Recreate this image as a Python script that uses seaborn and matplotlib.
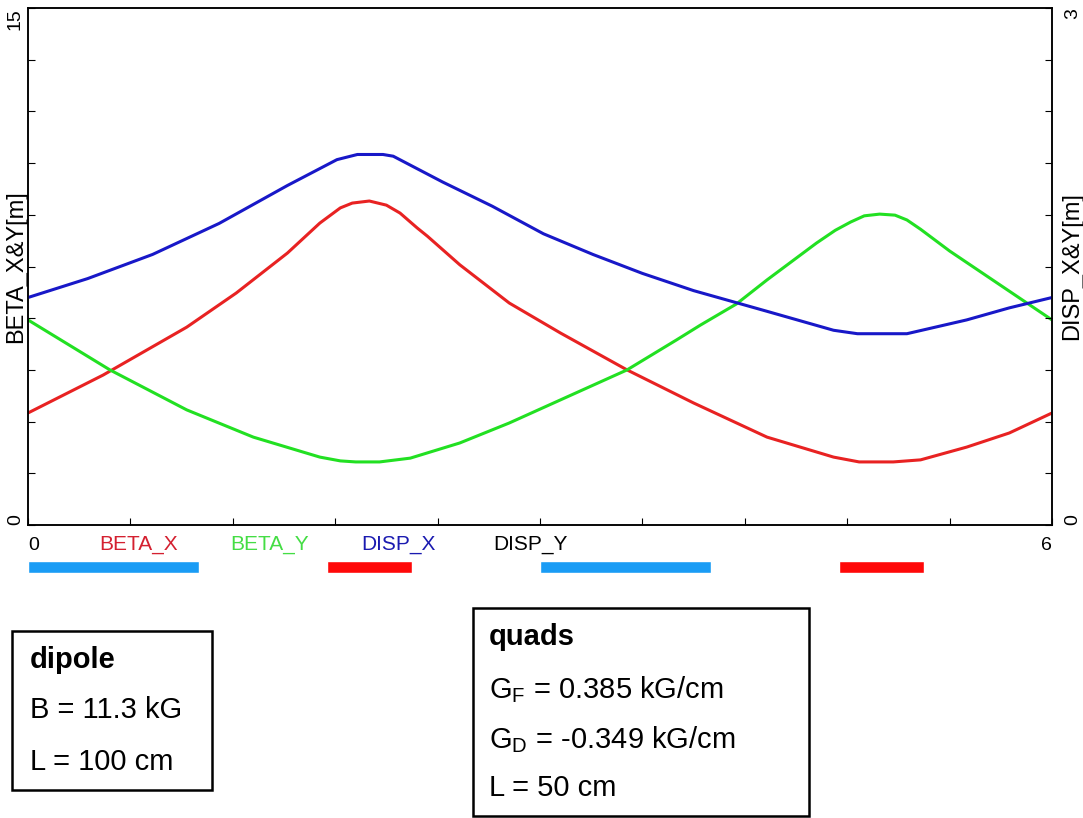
import numpy as np
import pandas as pd
import seaborn as sns
import matplotlib.pyplot as plt
from matplotlib.patches import Rectangle

# lattice functions, s in m
s_bx = [0.00, 0.44, 0.93, 1.22, 1.52, 1.71, 1.83, 1.90, 1.95, 2.00, 2.10, 2.18, 2.28, 2.34,
        2.53, 2.82, 3.12, 3.51, 3.90, 4.33, 4.72, 4.87, 5.07, 5.23, 5.50, 5.75, 6.00]
beta_x = [3.25, 4.35, 5.74, 6.73, 7.89, 8.76, 9.20, 9.34, 9.37, 9.40, 9.28, 9.05, 8.62, 8.38,
          7.55, 6.44, 5.57, 4.50, 3.54, 2.55, 1.97, 1.83, 1.83, 1.89, 2.26, 2.67, 3.25]

s_by = [0.00, 0.48, 0.93, 1.32, 1.71, 1.83, 1.92, 2.06, 2.24, 2.53, 2.82, 3.12, 3.51, 3.80,
        3.94, 4.15, 4.33, 4.62, 4.73, 4.82, 4.90, 4.99, 5.08, 5.15, 5.23, 5.40, 5.70, 6.00]
beta_y = [5.95, 4.50, 3.34, 2.55, 1.97, 1.86, 1.83, 1.83, 1.94, 2.38, 2.96, 3.63, 4.50, 5.37,
          5.80, 6.41, 7.11, 8.18, 8.55, 8.79, 8.97, 9.02, 8.99, 8.85, 8.58, 7.95, 6.95, 5.95]

s_dx = [0.00, 0.35, 0.73, 1.12, 1.52, 1.81, 1.93, 2.08, 2.14, 2.43, 2.72, 3.02, 3.31, 3.60,
        3.90, 4.33, 4.72, 4.86, 5.15, 5.50, 5.75, 6.00]
disp_x = [1.32, 1.43, 1.57, 1.75, 1.97, 2.12, 2.15, 2.15, 2.14, 1.99, 1.85, 1.69, 1.57, 1.46,
          1.36, 1.24, 1.13, 1.11, 1.11, 1.19, 1.26, 1.32]

# magnet layout: start and length in m
dipole_start = [0.0, 3.0]
dipole_len = [1.0, 1.0]
quad_start = [1.75, 4.75]
quad_len = [0.5, 0.5]

legend_names = ['BETA_X', 'BETA_Y', 'DISP_X', 'DISP_Y']
legend_colors = ['#d42030', '#44dd44', '#1a1ab0', 'black']

dipole_lines = ['dipole', 'B = 11.3 kG', 'L = 100 cm']
quad_lines = ['quads', r'G$_\mathregular{F}$ = 0.385 kG/cm',
              r'G$_\mathregular{D}$ = -0.349 kG/cm', 'L = 50 cm']

sns.set_style('white')
plt.rcParams['font.family'] = ['Liberation Sans', 'DejaVu Sans']
plt.rcParams['text.color'] = 'black'
plt.rcParams['axes.labelcolor'] = 'black'
plt.rcParams['xtick.color'] = 'black'
plt.rcParams['ytick.color'] = 'black'

W, H = 1083, 818
fig = plt.figure(figsize=(W / 100, H / 100), dpi=100)

def fx(x):
    return x / W

def fy(y):
    return 1 - y / H

ax = fig.add_axes([fx(28), fy(525), (1052 - 28) / W, (525 - 8) / H])
ax2 = ax.twinx()

sns.lineplot(x=s_bx, y=beta_x, ax=ax, color='#e82222', lw=2.2, sort=False)
sns.lineplot(x=s_by, y=beta_y, ax=ax, color='#22e022', lw=2.2, sort=False)
sns.lineplot(x=s_dx, y=disp_x, ax=ax2, color='#1818c8', lw=2.2, sort=False)

ax.set_xlim(0, 6)
ax.set_ylim(0, 15)
ax2.set_ylim(0, 3)

for a in (ax, ax2):
    for sp in a.spines.values():
        sp.set_linewidth(1.1)
        sp.set_color('black')

xt = np.linspace(0, 6, 11)
ax.set_xticks(xt)
ax.set_xticklabels(['0'] + [''] * 9 + ['6'])
ax.get_xticklabels()[0].set_ha('left')
ax.get_xticklabels()[-1].set_ha('right')
ax.tick_params(axis='x', direction='in', length=5, width=0.8, pad=9, labelsize=14,
               bottom=True, top=False)

ax.set_yticks(np.linspace(0, 15, 11))
ax.set_yticklabels(['0'] + [''] * 9 + ['15'], rotation=90)
ax.tick_params(axis='y', direction='in', length=5, width=0.8, pad=3, labelsize=14,
               left=True, right=False)
ax2.set_yticks(np.linspace(0, 3, 11))
ax2.set_yticklabels(['0'] + [''] * 9 + ['3'], rotation=90)
ax2.tick_params(axis='y', direction='in', length=5, width=0.8, pad=9, labelsize=14,
                right=True, left=False)
for a in (ax, ax2):
    labs = a.get_yticklabels()
    labs[0].set_va('bottom')
    labs[-1].set_va('top')

ax.set_xlabel('')
ax.set_ylabel('BETA_X&Y[m]', fontsize=17)
ax.yaxis.set_label_coords(-0.001, 0.5)
ax2.set_ylabel('DISP_X&Y[m]', fontsize=17, rotation=90, va='top')
ax2.yaxis.set_label_coords(1.0085, 0.5)

# legend row under the axis
leg_x = [139, 270, 398, 530]
for name, col, x in zip(legend_names, legend_colors, leg_x):
    fig.text(fx(x), fy(544), name, color=col, fontsize=15, ha='center', va='center')

# magnet layout strip
axm = fig.add_axes([fx(28), fy(573), (1052 - 28) / W, 12 / H])
axm.barh([0, 0], dipole_len, left=dipole_start, height=1.0, color='#1a9cf5')
axm.barh([0, 0], quad_len, left=quad_start, height=1.0, color='#ff0808')
axm.set_xlim(0, 6)
axm.set_ylim(-0.5, 0.5)
axm.axis('off')

# parameter boxes
fig.add_artist(Rectangle((fx(12), fy(790)), fx(200), (790 - 631) / H, transform=fig.transFigure,
                         fill=False, lw=1.8, ec='black'))
for i, (txt, y) in enumerate(zip(dipole_lines, [660, 710, 762])):
    fig.text(fx(30), fy(y), txt, fontsize=21, ha='left', va='center',
             fontweight='bold' if i == 0 else 'normal')

fig.add_artist(Rectangle((fx(473), fy(816)), fx(336), (816 - 608) / H, transform=fig.transFigure,
                         fill=False, lw=1.8, ec='black'))
for i, (txt, y) in enumerate(zip(quad_lines, [637, 690, 740, 788])):
    fig.text(fx(489), fy(y), txt, fontsize=21, ha='left', va='center',
             fontweight='bold' if i == 0 else 'normal')

fig.savefig('out.png', dpi=100)
